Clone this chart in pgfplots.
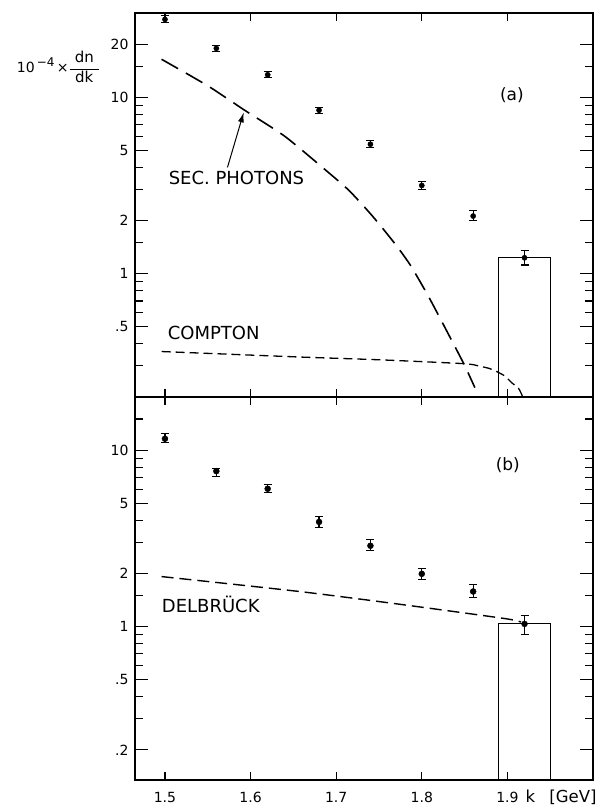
\documentclass[border=0pt]{standalone}
\usepackage{fontspec}
\setmainfont{DejaVu Sans}
\usepackage{amsmath}
\usepackage{pgfplots}
\usepackage{pgfplotstable}
\pgfplotsset{compat=1.18}
\usetikzlibrary{arrows.meta}

% measured spectrum, panel (a): k, value, error up, error down
\pgfplotstableread{
k    y     ep    em
1.50 27.6  1.3   1.2
1.56 18.9  0.7   0.7
1.62 13.4  0.5   0.5
1.68 8.44  0.33  0.33
1.74 5.41  0.27  0.25
1.80 3.16  0.17  0.16
1.86 2.12  0.15  0.11
1.92 1.23  0.12  0.11
}\dataA

% measured spectrum, panel (b)
\pgfplotstableread{
k    y     ep    em
1.50 11.6  0.8   0.6
1.56 7.6   0.3   0.5
1.62 6.04  0.36  0.30
1.68 3.92  0.28  0.28
1.74 2.87  0.26  0.18
1.80 1.99  0.15  0.15
1.86 1.58  0.15  0.12
1.92 1.035 0.115 0.135
}\dataB

% secondary photon background
\pgfplotstableread{
k     y
1.496 16.4
1.55  11.6
1.593 8.44
1.64  6.0
1.688 3.85
1.715 2.96
1.742 2.13
1.769 1.47
1.787 1.11
1.808 0.74
1.828 0.485
1.849 0.309
1.862 0.226
}\secph

% Compton contribution
\pgfplotstableread{
k     y
1.496 0.362
1.657 0.337
1.750 0.325
1.849 0.309
1.866 0.300
1.878 0.291
1.886 0.281
1.897 0.263
1.905 0.241
1.913 0.224
1.918 0.200
}\compton

% Delbrueck scattering prediction
\pgfplotstableread{
k     y
1.496 1.92
1.657 1.58
1.773 1.34
1.897 1.11
1.916 1.06
}\delb

\tikzset{
  curvelab/.style={font=\fontsize{18}{18}\selectfont},
  ticklab/.style={font=\fontsize{14}{14}\selectfont},
}
\pgfplotsset{
  tk/.style={black, line width=1.1pt, forget plot},
  mypanel/.style={
    scale only axis, width=458pt, clip=false,
    xmin=1.465, xmax=2.0,
    axis line style={line width=1.5pt},
    xtick=\empty,
    yticklabel style={font=\fontsize{14}{14}\selectfont, xshift=-3pt},
    major tick length=0pt,
  },
}

% inward tick strokes on the left and right frame (13pt long major, 8pt minor)
\newcommand\ytkmaj[1]{%
  \addplot[tk] coordinates {(1.465,#1) (1.48018,#1)};
  \addplot[tk] coordinates {(1.98482,#1) (2.0,#1)};}
\newcommand\ytkmin[1]{%
  \addplot[tk] coordinates {(1.465,#1) (1.47434,#1)};
  \addplot[tk] coordinates {(1.99066,#1) (2.0,#1)};}
% inward tick strokes on the bottom and top frame
\newcommand\xtka[1]{%
  \addplot[tk] coordinates {(#1,0.2) (#1,0.222)};
  \addplot[tk] coordinates {(#1,27.03) (#1,30)};}
\newcommand\xtkb[1]{%
  \addplot[tk] coordinates {(#1,0.135) (#1,0.14985)};
  \addplot[tk] coordinates {(#1,18.02) (#1,20)};}

\begin{document}
\begin{tikzpicture}
\path (-135pt,-28pt) rectangle (469pt,780pt);

% ---------- panel (a) ----------
\begin{axis}[mypanel, ymode=log, at={(0pt,383pt)}, anchor=south west, height=384pt,
  ymin=0.2, ymax=30,
  ytick={0.5,1,2,5,10,20}, yticklabels={.5,1,2,5,10,20},
]
\ytkmaj{0.5}\ytkmaj{1}\ytkmaj{2}\ytkmaj{5}\ytkmaj{10}\ytkmaj{20}
\ytkmin{0.3}\ytkmin{0.4}\ytkmin{0.6}\ytkmin{0.7}\ytkmin{0.8}\ytkmin{0.9}
\ytkmin{1.5}\ytkmin{3}\ytkmin{4}\ytkmin{6}\ytkmin{7}\ytkmin{8}\ytkmin{9}\ytkmin{15}
\xtka{1.5}\xtka{1.6}\xtka{1.7}\xtka{1.8}\xtka{1.9}
\addplot[black, only marks, mark=*, mark size=2.6pt,
  error bars/.cd, y dir=both, y explicit,
  error bar style={line width=1.2pt, black},
  error mark options={rotate=90, mark size=4pt, line width=1.1pt, black}]
  table[x=k, y=y, y error plus=ep, y error minus=em] {\dataA};
\addplot[black, line width=1.6pt, dash pattern=on 19pt off 9pt, smooth, tension=0.4] table[x=k,y=y] {\secph};
\addplot[black, line width=1.3pt, dash pattern=on 9pt off 5pt, smooth, tension=0.4] table[x=k,y=y] {\compton};
\addplot[black, line width=0.9pt] coordinates {(1.89,0.2) (1.89,1.24) (1.95,1.24) (1.95,0.2)};
\draw[line width=1pt, -{Latex[length=10pt,width=6pt]}] (axis cs:1.573,4.0) -- (axis cs:1.592,8.2);
\node[curvelab, anchor=west] at (axis description cs:0.066,0.570) {SEC. PHOTONS};
\node[curvelab, anchor=west] at (axis description cs:0.064,0.166) {COMPTON};
\node[font=\fontsize{17}{17}\selectfont] at (axis description cs:0.823,0.786) {(a)};
\node[anchor=east, inner sep=0pt] at (axis description cs:-0.076,0.859)
  {\fontsize{14}{14}\selectfont 10\raisebox{6pt}{\fontsize{12}{12}\selectfont\,\symbol{"2212}4}\,\symbol{"00D7}%
   $\dfrac{\text{\fontsize{15}{15}\selectfont\hspace{5pt}dn\hspace{5pt}}}{\text{\fontsize{15}{15}\selectfont dk}}$};
\end{axis}

% ---------- panel (b) ----------
\begin{axis}[mypanel, ymode=log, at={(0pt,0pt)}, anchor=south west, height=383pt,
  ymin=0.135, ymax=20,
  ytick={0.2,0.5,1,2,5,10}, yticklabels={.2,.5,1,2,5,10},
]
\ytkmaj{0.2}\ytkmaj{0.5}\ytkmaj{1}\ytkmaj{2}\ytkmaj{5}\ytkmaj{10}
\ytkmin{0.3}\ytkmin{0.4}\ytkmin{0.6}\ytkmin{0.7}\ytkmin{0.8}\ytkmin{0.9}
\ytkmin{1.5}\ytkmin{3}\ytkmin{4}\ytkmin{6}\ytkmin{7}\ytkmin{8}\ytkmin{9}\ytkmin{15}
\xtkb{1.5}\xtkb{1.6}\xtkb{1.7}\xtkb{1.8}\xtkb{1.9}
\addplot[black, only marks, mark=*, mark size=3pt,
  error bars/.cd, y dir=both, y explicit,
  error bar style={line width=1.2pt, black},
  error mark options={rotate=90, mark size=4pt, line width=1.1pt, black}]
  table[x=k, y=y, y error plus=ep, y error minus=em] {\dataB};
\addplot[black, line width=1.4pt, dash pattern=on 12pt off 6pt, smooth, tension=0.4] table[x=k,y=y] {\delb};
\addplot[black, line width=0.9pt] coordinates {(1.89,0.135) (1.89,1.04) (1.95,1.04) (1.95,0.135)};
\node[curvelab, anchor=west] at (axis description cs:0.051,0.4595) {DELBR\symbol{"00DC}CK};
\node[font=\fontsize{17}{17}\selectfont] at (axis description cs:0.814,0.822) {(b)};
\node[ticklab, anchor=base, yshift=-22pt] at (axis cs:1.5,0.135) {1.5};
\node[ticklab, anchor=base, yshift=-22pt] at (axis cs:1.6,0.135) {1.6};
\node[ticklab, anchor=base, yshift=-22pt] at (axis cs:1.7,0.135) {1.7};
\node[ticklab, anchor=base, yshift=-22pt] at (axis cs:1.8,0.135) {1.8};
\node[ticklab, anchor=base, yshift=-22pt] at (axis cs:1.9,0.135) {1.9};
\node[anchor=base west, font=\fontsize{16.5}{17}\selectfont, yshift=-22pt] at (axis description cs:0.845,0) {k};
\node[anchor=base east, font=\fontsize{16.5}{17}\selectfont, yshift=-22pt] at (axis description cs:1.0153,0) {[GeV]};
\end{axis}
\end{tikzpicture}
\end{document}
